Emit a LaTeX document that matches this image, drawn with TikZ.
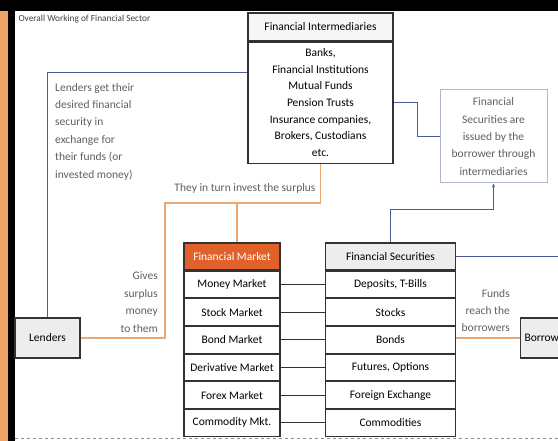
\documentclass[tikz,border=0pt]{standalone}
\usepackage{fontspec}
\setmainfont{Carlito}
\usepackage{xcolor}
\usetikzlibrary{positioning,arrows.meta}

\definecolor{fmorange}{HTML}{E0622A}
\definecolor{lineorange}{HTML}{EBA870}
\definecolor{lineblue}{HTML}{4C5A96}
\definecolor{boxgray}{HTML}{EDEDED}
\definecolor{notegray}{HTML}{606060}

\tikzset{
  box/.style={draw=black!80, line width=1.1pt, inner sep=1pt, align=center, font=\fontsize{11.5}{13}\selectfont},
  rowbox/.style={box, minimum height=26.6pt},
  blueline/.style={draw=lineblue, line width=1pt},
  orangeline/.style={draw=lineorange, line width=1.4pt},
  note/.style={text=notegray, font=\fontsize{11.5}{17.4}\selectfont},
}

\begin{document}
\begin{tikzpicture}[x=1pt,y=-1pt]
\useasboundingbox (0,0) rectangle (558,441);
\clip (0,0) rectangle (558,441);
\fill[white] (0,0) rectangle (558,441);

% frame
\fill[color=lineorange!90!orange] (0,0) rectangle (8,441);
\fill[color=black] (8,0) rectangle (15,441);
\fill[color=black] (0,0) rectangle (558,11);
\draw[color=black!45, dashed, line width=1pt] (15,439)--(558,439);

\node[anchor=north west, font=\fontsize{9.3}{10}\selectfont, text=black!75] (title) at (15,11.5) {Overall Working of Financial Sector};

% intermediaries
\node[box, fill=boxgray!50, minimum width=145pt, minimum height=28pt] (fihead) at (320.5,27) {Financial Intermediaries};
\node[box, minimum width=145pt, minimum height=121pt, below=0pt of fihead, font=\fontsize{11.5}{16.6}\selectfont] (fibody)
  {Banks,\\Financial Institutions\\Mutual Funds\\Pension Trusts\\Insurance companies,\\Brokers, Custodians\\etc.};

% lenders and borrowers
\node[box, fill=boxgray, minimum width=65pt, minimum height=40pt] (lenders) at (47.5,338) {Lenders};
\node[box, fill=boxgray, minimum width=80pt, minimum height=40pt, anchor=west, text width=72pt, align=left] (borrowers) at (520,338) {Borrowers};

% financial market
\node[rowbox, fill=fmorange, text=white, minimum width=96pt, minimum height=27pt] (fm) at (232,256.5) {Financial Market};
\node[rowbox, minimum width=96pt, below=0pt of fm] (fm1) {Money Market};
\node[rowbox, minimum width=96pt, below=0pt of fm1] (fm2) {Stock Market};
\node[rowbox, minimum width=96pt, below=0pt of fm2] (fm3) {Bond Market};
\node[rowbox, minimum width=96pt, below=0pt of fm3] (fm4) {Derivative Market};
\node[rowbox, minimum width=96pt, below=0pt of fm4] (fm5) {Forex Market};
\node[rowbox, minimum width=96pt, below=0pt of fm5] (fm6) {Commodity Mkt.};

% financial securities
\node[rowbox, fill=boxgray, minimum width=130pt, minimum height=27pt] (fs) at (390.5,256.5) {Financial Securities};
\node[rowbox, minimum width=130pt, below=0pt of fs] (fs1) {Deposits, T-Bills};
\node[rowbox, minimum width=130pt, below=0pt of fs1] (fs2) {Stocks};
\node[rowbox, minimum width=130pt, below=0pt of fs2] (fs3) {Bonds};
\node[rowbox, minimum width=130pt, below=0pt of fs3] (fs4) {Futures, Options};
\node[rowbox, minimum width=130pt, below=0pt of fs4] (fs5) {Foreign Exchange};
\node[rowbox, minimum width=130pt, below=0pt of fs5] (fs6) {Commodities};

\foreach \i in {1,...,6}
  \draw[color=black!80, line width=1pt] (fm\i.east)--(fs\i.west);

% notes
\node[draw=lineblue!45, line width=1pt, minimum width=107pt, minimum height=93pt, inner sep=1pt, align=center, note] (issued) at (493.5,136.5)
  {Financial\\Securities are\\issued by the\\borrower through\\intermediaries};
\node[note, anchor=west, align=left, inner sep=1pt] (lendnote) at (54,131.5)
  {Lenders get their\\desired financial\\security in\\exchange for\\their funds (or\\invested money)};
\node[note, inner sep=1pt] (investnote) at (245,188) {They in turn invest the surplus};
\node[note, anchor=east, align=right, inner sep=1pt] (givesnote) at (159,302) {Gives\\surplus\\money\\to them};
\node[note, anchor=east, align=right, inner sep=1pt] (fundsnote) at (511,310.5) {Funds\\reach the\\borrowers};

% blue connectors
\coordinate (b1) at (417,103);
\coordinate (b2) at (493.5,210);
\draw[blueline] (fibody.west |- 0,73) -| (lenders.north);
\draw[blueline] (fibody.east |- b1) -- (b1) |- (issued.west);
\draw[blueline, -{Stealth[length=4pt]}] (fs.north) |- (b2) -- (issued.south);
\draw[blueline] (fs.east) -| (borrowers.north);

% orange connectors
\coordinate (o1) at (165,203);
\coordinate (o2) at (237,203);
\draw[orangeline] (lenders.east) -| (o1) -| (fibody.south);
\draw[orangeline] (o2) -- (o2 |- fm.north);
\draw[orangeline] (borrowers.west) -- (borrowers.west -| fs3.east);
\end{tikzpicture}
\end{document}
